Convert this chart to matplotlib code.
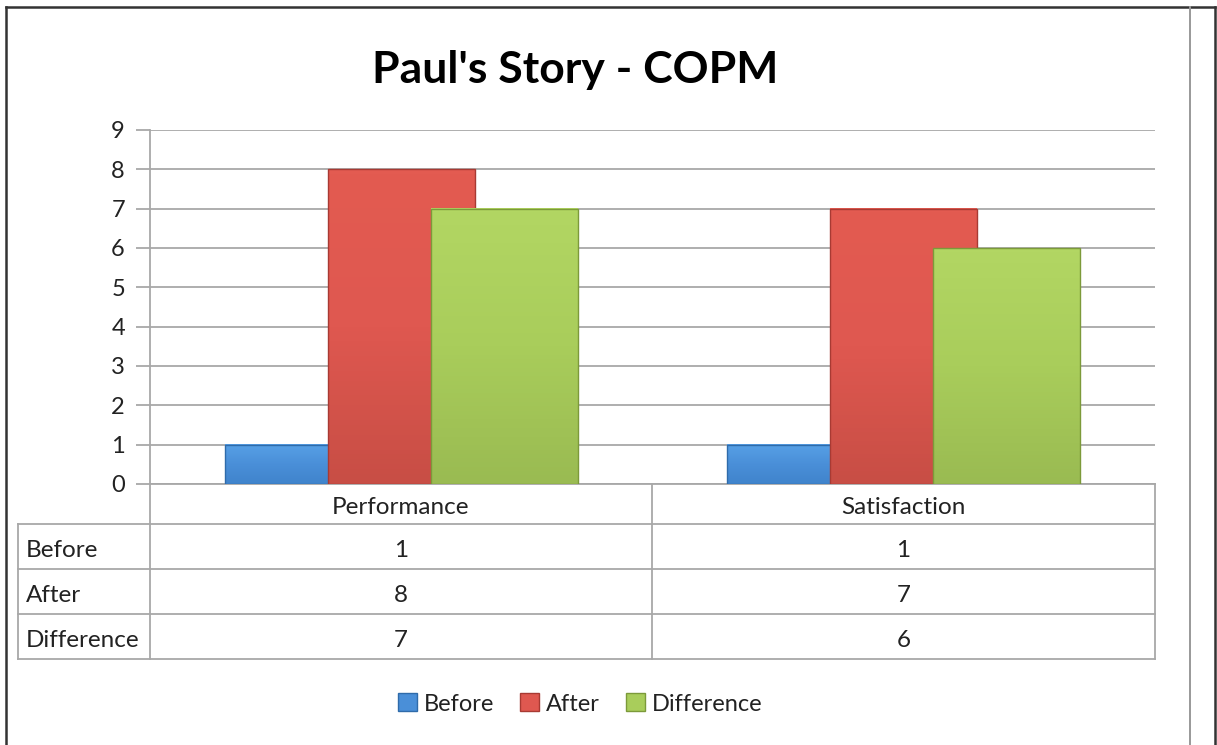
import numpy as np
import matplotlib
matplotlib.use("Agg")
import matplotlib.pyplot as plt
from matplotlib.patches import Patch
from matplotlib.colors import LinearSegmentedColormap

# --- data ---
categories = ["Performance", "Satisfaction"]
series_names = ["Before", "After", "Difference"]
before = [1, 1]
after = [8, 7]
difference = [7, 6]
y_ticks = list(range(0, 10))

colors = ["#4A8FD8", "#DF5850", "#A9CD5B"]
tops = ["#57A0E6", "#E35B51", "#B2D663"]
bottoms = ["#4084CC", "#C84E45", "#9ABB52"]
edges = ["#2F6BAA", "#A83A33", "#7C9A3A"]

plt.rcParams["font.family"] = ["Lato", "DejaVu Sans"]

W, H = 1217, 745
fig = plt.figure(figsize=(W / 100, H / 100), dpi=100)

# overlay axes in pixel units for frame / table
ov = fig.add_axes([0, 0, 1, 1], zorder=0)
ov.set_xlim(0, W)
ov.set_ylim(H, 0)
ov.axis("off")

# chart frame
ov.plot([6, 1215], [7, 7], color="#333333", lw=1.8)
ov.plot([6, 6], [7, H], color="#333333", lw=1.8)
ov.plot([1215, 1215], [7, H], color="#333333", lw=1.8)
ov.plot([1190, 1190], [7, H], color="#999999", lw=1.4)

# main plot axes
x0, x1, ytop, ybot = 150, 1155, 130, 484
ax = fig.add_axes([x0 / W, 1 - ybot / H, (x1 - x0) / W, (ybot - ytop) / H], zorder=1)
ax.set_facecolor("none")

x = np.arange(len(categories))
width = 0.2925
step = 0.205
series = [before, after, difference]
grad = np.linspace(0, 1, 64).reshape(-1, 1)
for i, (name, vals) in enumerate(zip(series_names, series)):
    z = 3 + i
    bars = ax.bar(x + (i - 1) * step, vals, width=width, color=colors[i],
                  linewidth=0, zorder=z, label=name)
    cmap = LinearSegmentedColormap.from_list(name, [bottoms[i], colors[i], tops[i]])
    for b in bars:
        bx, by, bw, bh = b.get_x(), b.get_y(), b.get_width(), b.get_height()
        ax.imshow(grad, cmap=cmap, extent=[bx, bx + bw, by, by + bh], origin="lower",
                  aspect="auto", zorder=z + 0.01, clip_path=b, clip_on=True)
    ax.bar(x + (i - 1) * step, vals, width=width, fill=False,
           edgecolor=edges[i], linewidth=1.0, zorder=z + 0.02)

ax.set_xlim(-0.5, len(categories) - 0.5)
ax.set_ylim(0, 9)
ax.set_yticks(y_ticks)
ax.set_yticklabels([str(t) for t in y_ticks], fontsize=17, color="#222222")
ax.set_xticks([])
ax.grid(axis="y", color="#A8A8A8", lw=1.3, zorder=0)
for s in ["top", "right", "bottom"]:
    ax.spines[s].set_visible(False)
ax.spines["left"].set_color("#A8A8A8")
ax.spines["left"].set_linewidth(1.3)
ax.tick_params(axis="y", length=10, width=1.3, color="#A8A8A8", pad=8)

# title
fig.text(575 / W, 1 - 70 / H, "Paul's Story - COPM", ha="center", va="center",
         fontsize=32, fontweight="bold", color="#000000")

# data table below the axis
gc = "#A8A8A8"
rows_y = [484, 524, 569, 614, 659]
col_x = [18, 150, 652, 1155]
ov.plot([150, 1155], [484, 484], color=gc, lw=1.3)
for yy in rows_y[1:]:
    ov.plot([18, 1155], [yy, yy], color=gc, lw=1.3)
ov.plot([18, 18], [524, 659], color=gc, lw=1.3)
for xx in col_x[1:]:
    ov.plot([xx, xx], [484, 659], color=gc, lw=1.3)

fs = 17.5
for j, cat in enumerate(categories):
    cx = (col_x[j + 1] + col_x[j + 2]) / 2
    ov.text(cx, (rows_y[0] + rows_y[1]) / 2 + 4, cat, ha="center", va="center",
            fontsize=fs, color="#222222")
for r, (name, vals) in enumerate(zip(series_names, series)):
    cy = (rows_y[r + 1] + rows_y[r + 2]) / 2 + 4
    ov.text(26, cy, name, ha="left", va="center", fontsize=fs, color="#222222")
    for j, v in enumerate(vals):
        cx = (col_x[j + 1] + col_x[j + 2]) / 2
        ov.text(cx, cy, str(v), ha="center", va="center", fontsize=fs, color="#222222")

# legend
handles = [Patch(facecolor=colors[i], edgecolor=edges[i], label=series_names[i])
           for i in range(3)]
fig.legend(handles=handles, loc="center", bbox_to_anchor=(580 / W, 1 - 704 / H),
           ncol=3, frameon=False, fontsize=17, handlelength=0.8, handleheight=0.8,
           handletextpad=0.3, columnspacing=1.1, labelcolor="#222222")

fig.savefig("out.png", dpi=100)
